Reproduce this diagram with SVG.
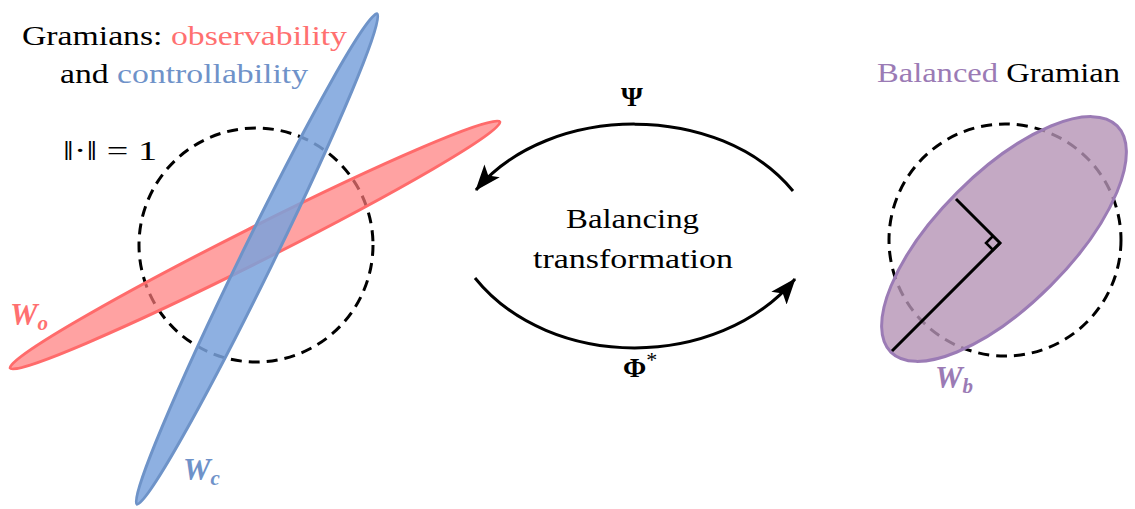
<svg xmlns="http://www.w3.org/2000/svg" width="1135" height="509" viewBox="0 0 1135 509">
<style>
.t{font-size:28px}
.red{fill:#ff7070}
.blue{fill:#6f92c9}
.pur{fill:#9b7bb5}
.w{font-weight:bold;font-style:italic;font-size:31px}
.unit{fill:none;stroke:#000;stroke-width:3;stroke-dasharray:11 7}
.conn{fill:none;stroke:#000;stroke-width:3}
</style>
<defs>
<marker id="ah" viewBox="0 0 26 20" refX="25" refY="10" markerWidth="26" markerHeight="20" markerUnits="userSpaceOnUse" orient="auto">
<path d="M0,0 L26,10 L0,20 L6,10 z" fill="#000"/>
</marker>
</defs>
<g font-family="'Liberation Serif', 'DejaVu Serif', serif">
<g id="title-left">
<text class="t" x="22" y="45" textLength="325" lengthAdjust="spacingAndGlyphs">Gramians: <tspan class="red">observability</tspan></text>
<text class="t" x="60" y="83" textLength="248" lengthAdjust="spacingAndGlyphs">and <tspan class="blue">controllability</tspan></text>
<text class="t" x="63" y="160" textLength="94" lengthAdjust="spacingAndGlyphs">‖·‖ = 1</text>
</g>
<g id="left-gramians">
<circle class="unit" cx="256" cy="245" r="117"/>
<ellipse id="Wo" cx="255" cy="245" rx="274" ry="17" transform="rotate(-26.7 255 245)" fill="#ff7a7a" fill-opacity="0.7" stroke="#ff6b6b" stroke-width="3"/>
<ellipse id="Wc" cx="257" cy="259" rx="273" ry="16" transform="rotate(-63.9 257 259)" fill="#7aa2dc" fill-opacity="0.85" stroke="#6e93c8" stroke-width="3"/>
<text class="w red" x="10" y="325">W<tspan font-size="21" dy="5">o</tspan></text>
<text class="w blue" x="183" y="480">W<tspan font-size="21" dy="5">c</tspan></text>
</g>
<g id="connectors">
<path class="conn" d="M 793 191 C 720 102, 550 102, 476 190" marker-end="url(#ah)"/>
<path class="conn" d="M 475 278 C 550 371, 718 371, 795 279" marker-end="url(#ah)"/>
</g>
<g id="labels-center">
<text x="632" y="106" font-size="28" font-weight="bold" text-anchor="middle">Ψ</text>
<text class="t" x="566" y="228" textLength="133" lengthAdjust="spacingAndGlyphs">Balancing</text>
<text class="t" x="533" y="268" textLength="200" lengthAdjust="spacingAndGlyphs">transformation</text>
<text x="623" y="377" font-size="28" font-weight="bold">Φ<tspan font-size="22" font-weight="normal" dy="-10">*</tspan></text>
</g>
<g id="balanced">
<text class="t" x="877" y="82" textLength="243" lengthAdjust="spacingAndGlyphs"><tspan class="pur">Balanced</tspan> Gramian</text>
<circle class="unit" cx="1005" cy="240" r="116"/>
<ellipse id="Wb" cx="1004" cy="239" rx="160" ry="66" transform="rotate(-45 1004 239)" fill="#b593b5" fill-opacity="0.8" stroke="#9b7bb5" stroke-width="3"/>
<path d="M 892 351 L 1000 243 L 956 199" fill="none" stroke="#000" stroke-width="3"/>
<path d="M 993 236 L 986 243 L 993 250 L 1000 243" fill="none" stroke="#000" stroke-width="2.5"/>
<text class="w pur" x="935" y="388">W<tspan font-size="21" dy="5">b</tspan></text>
</g>
</g>
</svg>
